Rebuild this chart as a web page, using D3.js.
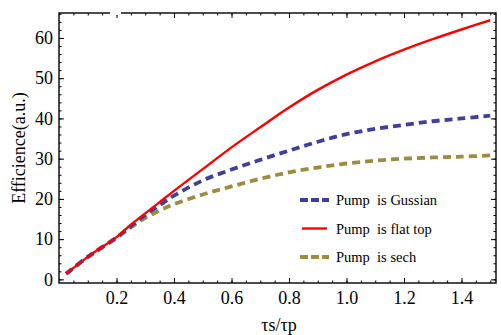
<!DOCTYPE html>
<html lang="en">
<head>
<meta charset="UTF-8">
<title>Efficience</title>
<script src="https://cdn.jsdelivr.net/npm/d3@7"></script>
<style>
  body { margin: 0; background: #fff; }
  text { font-family: "Liberation Serif", "DejaVu Serif", serif; fill: #000; }
</style>
</head>
<body>
<svg id="chart" width="501" height="335"></svg>
<script>
// values
const tau = [0.025, 0.1, 0.2, 0.25, 0.3, 0.35, 0.4, 0.5, 0.6, 0.7, 0.8, 0.9, 1.0, 1.1, 1.2, 1.3, 1.4, 1.5]
const gaussian = [1.4, 5.6, 10.4, 13.2, 16.0, 18.4, 20.8, 24.6, 27.3, 29.7, 32.0, 34.2, 36.1, 37.4, 38.4, 39.3, 40.0, 40.7]
const flatTop = [1.4, 5.6, 10.5, 13.6, 16.4, 19.2, 22.0, 27.4, 32.8, 37.8, 42.7, 47.1, 50.9, 54.2, 57.1, 59.7, 62.1, 64.4]
const sech = [1.4, 5.5, 10.3, 12.9, 15.3, 17.1, 18.7, 21.1, 23.1, 25.0, 26.6, 27.8, 28.8, 29.5, 30.0, 30.3, 30.5, 30.8]
const seriesNames = ["Pump  is Gussian", "Pump  is flat top", "Pump  is sech"]
const xTicks = [0.2, 0.4, 0.6, 0.8, 1.0, 1.2, 1.4]
const yTicks = [0, 10, 20, 30, 40, 50, 60]

let svg = d3.select("#chart")
let mLeft = 59, mRight = 496, mTop = 13, mBottom = 283

let x = d3.scaleLinear().domain([0, 1.52]).range([mLeft, mRight])
let y = d3.scaleLinear().domain([-0.9, 66.2]).range([mBottom, mTop])

let xMinor = d3.range(0.05, 1.52, 0.05)
let yMinor = d3.range(0, 66.2, 2)

// ticks pointing inwards on all four sides
function ticks(axis, vals, size, fmt, tr) {
    let g = svg.append("g").attr("transform", tr)
        .call(axis.tickValues(vals).tickSize(size).tickFormat(fmt))
    g.select(".domain").remove()
    g.selectAll("line").attr("stroke", "#000").attr("stroke-width", 1)
    return g
}
let none = () => ""
ticks(d3.axisBottom(x), xMinor, -2.5, none, `translate(0,${mBottom})`)
ticks(d3.axisTop(x), xMinor, -2.5, none, `translate(0,${mTop})`)
ticks(d3.axisLeft(y), yMinor, -2.5, none, `translate(${mLeft},0)`)
ticks(d3.axisRight(y), yMinor, -2.5, none, `translate(${mRight},0)`)
ticks(d3.axisTop(x), xTicks, -5, none, `translate(0,${mTop})`)
ticks(d3.axisRight(y), yTicks, -5, none, `translate(${mRight},0)`)

let xa = ticks(d3.axisBottom(x), xTicks, -5, d3.format(".1f"), `translate(0,${mBottom})`)
xa.selectAll("text").attr("y", 8).attr("font-size", 18)
let ya = ticks(d3.axisLeft(y), yTicks, -5, d3.format("d"), `translate(${mLeft},0)`)
ya.selectAll("text").attr("x", -6).attr("font-size", 18)
svg.selectAll(".tick text").attr("font-family", "Liberation Serif").attr("fill", "#000")

// frame
svg.append("rect")
    .attr("x", mLeft).attr("y", mTop)
    .attr("width", mRight - mLeft).attr("height", mBottom - mTop)
    .attr("fill", "none").attr("stroke", "#000").attr("stroke-width", 1.4)
// small break in the top edge
svg.append("rect").attr("x", 110).attr("y", mTop - 2).attr("width", 11).attr("height", 4).attr("fill", "#fff")

let series = [
    {name: seriesNames[0], vals: gaussian, color: "#3f3f9d", width: 3.8, dash: "8,5"},
    {name: seriesNames[1], vals: flatTop, color: "#ff0000", width: 2.4, dash: null},
    {name: seriesNames[2], vals: sech, color: "#9d8c40", width: 3.8, dash: "8,5"}
]

let line = d3.line().x(d => x(d[0])).y(d => y(d[1])).curve(d3.curveCatmullRom)

// draw sech first, then gaussian, then red on top
;[2, 0, 1].forEach(i => {
    let s = series[i]
    svg.append("path")
        .attr("d", line(tau.map((t, j) => [t, s.vals[j]])))
        .attr("fill", "none")
        .attr("stroke", s.color)
        .attr("stroke-width", s.width)
        .attr("stroke-dasharray", s.dash)
})

// legend
let leg = svg.append("g").selectAll("g").data(series).enter()
    .append("g").attr("transform", (d, i) => `translate(0,${200 + i * 28.5})`)
leg.append("line")
    .attr("x1", d => d.dash ? 300 : 302).attr("x2", d => d.dash ? 329 : 327)
    .attr("stroke", d => d.color).attr("stroke-width", d => d.width)
    .attr("stroke-dasharray", d => d.dash ? "8,3" : null)
leg.append("text").attr("x", 336).attr("y", 5)
    .attr("font-size", 14.5)
    .style("white-space", "pre")
    .text(d => d.name)

// axis titles
svg.append("text")
    .attr("transform", "translate(25,148) rotate(-90)")
    .attr("text-anchor", "middle").attr("font-size", 18)
    .text("Efficience(a.u.)")
svg.append("text")
    .attr("x", 279).attr("y", 331)
    .attr("text-anchor", "middle").attr("font-size", 18)
    .text("τs/τp")
</script>
</body>
</html>
